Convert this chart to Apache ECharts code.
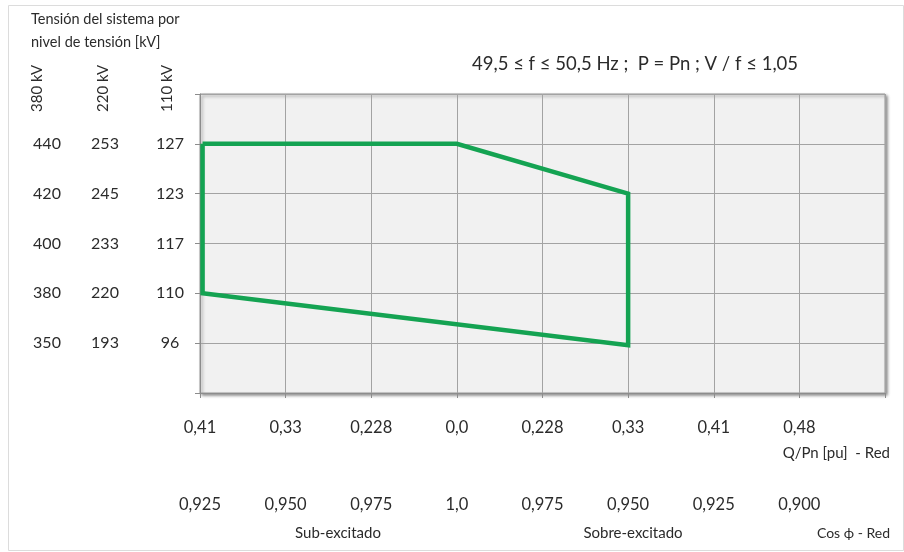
<!DOCTYPE html>
<html>
<head>
<meta charset="utf-8">
<script src="https://cdn.jsdelivr.net/npm/echarts@6/dist/echarts.min.js"></script>
<style>
html,body{margin:0;padding:0;background:#fff;}
#chart{width:904px;height:552px;}
</style>
</head>
<body>
<div id="chart"></div>
<script>
// Tick labels (one per grid line, bottom-to-top / left-to-right)
const qLabels   = ['0,41','0,33','0,228','0,0','0,228','0,33','0,41','0,48',''];
const cosLabels = ['0,925','0,950','0,975','1,0','0,975','0,950','0,925','0,900',''];
const kv380 = ['','350','380','400','420','440',''];
const kv220 = ['','193','220','233','245','253',''];
const kv110 = ['','96','110','117','123','127',''];
const kvHeaders = ['380 kV','220 kV','110 kV'];

// Operating-limit polygon, in grid-line units (x: Q/Pn position, y: voltage level)
const limitX = [0.03, 3, 5, 5,    0.03, 0.03];
const limitY = [5,    5, 4, 0.96, 2,    5];

const FONT = 'Lato, "Open Sans", sans-serif';
const TXT = '#2b2b2b';
const GRIDC = '#a3a3a3';

const polygon = limitX.map((x, i) => [x, limitY[i]]);
const lab = arr => v => { const i = Math.round(v); return arr[i] !== undefined ? arr[i] : ''; };

const chart = echarts.init(document.getElementById('chart'));

const yBase = {
  type: 'value', min: 0, max: 6, interval: 1, position: 'left',
  axisLine: { show: false }, axisTick: { show: false }, splitLine: { show: false }
};
const yLabelAxis = (arr, off) => Object.assign({}, yBase, {
  offset: off,
  axisLabel: { show: true, formatter: lab(arr), align: 'center', margin: 0,
    fontSize: 16, color: TXT, fontFamily: FONT }
});

chart.setOption({
  backgroundColor: '#ffffff',
  animation: false,
  grid: {
    left: 200, top: 94, width: 685, height: 299,
    show: true, backgroundColor: '#f1f1f1', borderColor: '#9a9a9a', borderWidth: 1,
    shadowColor: 'rgba(0,0,0,0.45)', shadowBlur: 3, shadowOffsetX: 2, shadowOffsetY: 2
  },
  xAxis: [
    {
      type: 'value', min: 0, max: 8, interval: 1, position: 'bottom',
      axisLine: { show: true, lineStyle: { color: '#8c8c8c', width: 1 } },
      axisTick: { show: true, length: 5, lineStyle: { color: '#8c8c8c' } },
      splitLine: { show: true, lineStyle: { color: GRIDC, width: 1 } },
      axisLabel: { formatter: lab(qLabels), margin: 26, fontSize: 16.5, color: TXT, fontFamily: FONT, showMaxLabel: true }
    },
    {
      type: 'value', min: 0, max: 8, interval: 1, position: 'bottom', offset: 0,
      axisLine: { show: false }, axisTick: { show: false }, splitLine: { show: false },
      axisLabel: { formatter: lab(cosLabels), margin: 103, fontSize: 16.5, color: TXT, fontFamily: FONT }
    }
  ],
  yAxis: [
    Object.assign({}, yBase, {
      axisLine: { show: true, lineStyle: { color: '#8c8c8c' } },
      axisTick: { show: true, length: 5, lineStyle: { color: '#8c8c8c' } },
      splitLine: { show: true, lineStyle: { color: GRIDC, width: 1 } },
      axisLabel: { show: false }
    }),
    yLabelAxis(kv110, 30),
    yLabelAxis(kv220, 95),
    yLabelAxis(kv380, 153)
  ],
  series: [{
    type: 'line',
    xAxisIndex: 0, yAxisIndex: 0,
    data: polygon,
    showSymbol: false,
    clip: false,
    lineStyle: { color: '#14a352', width: 4.5, join: 'miter' },
    silent: true
  }],
  graphic: [
    { type: 'rect', z: -10, shape: { x: 8.5, y: 5.5, width: 895, height: 545 },
      style: { fill: 'none', stroke: '#dcdcdc', lineWidth: 1 } },
    { type: 'text', x: 31, y: 19, style: { text: 'Tensión del sistema por', font: '14.5px ' + FONT, fill: TXT, verticalAlign: 'middle' } },
    { type: 'text', x: 31, y: 42, style: { text: 'nivel de tensión [kV]', font: '14.5px ' + FONT, fill: TXT, verticalAlign: 'middle' } },
    { type: 'text', x: 37, y: 112, rotation: Math.PI / 2, style: { text: kvHeaders[0], font: '15px ' + FONT, fill: TXT, align: 'left', verticalAlign: 'middle' } },
    { type: 'text', x: 103, y: 112, rotation: Math.PI / 2, style: { text: kvHeaders[1], font: '15px ' + FONT, fill: TXT, align: 'left', verticalAlign: 'middle' } },
    { type: 'text', x: 167, y: 112, rotation: Math.PI / 2, style: { text: kvHeaders[2], font: '15px ' + FONT, fill: TXT, align: 'left', verticalAlign: 'middle' } },
    { type: 'text', x: 472, y: 64, style: { text: '49,5 ≤ f ≤ 50,5 Hz ;  P = Pn ; V / f ≤ 1,05', font: '18.5px ' + FONT, fill: TXT, verticalAlign: 'middle' } },
    { type: 'text', x: 890, y: 453, style: { text: 'Q/Pn [pu]  - Red', font: '15px ' + FONT, fill: TXT, align: 'right', verticalAlign: 'middle' } },
    { type: 'text', x: 338, y: 533, style: { text: 'Sub-excitado', font: '15px ' + FONT, fill: TXT, align: 'center', verticalAlign: 'middle' } },
    { type: 'text', x: 633, y: 533, style: { text: 'Sobre-excitado', font: '15px ' + FONT, fill: TXT, align: 'center', verticalAlign: 'middle' } },
    { type: 'text', x: 890, y: 533, style: { text: 'Cos ϕ - Red', font: '14px ' + FONT, fill: TXT, align: 'right', verticalAlign: 'middle' } }
  ]
});
</script>
</body>
</html>
